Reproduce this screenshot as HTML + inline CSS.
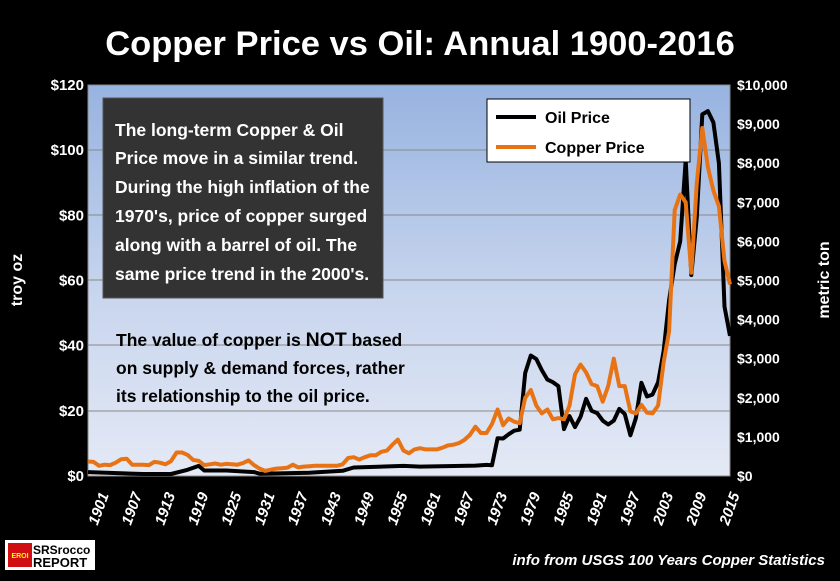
<!DOCTYPE html>
<html><head><meta charset="utf-8"><style>
body{margin:0;background:#000;width:840px;height:576px;overflow:hidden;font-family:"Liberation Sans",sans-serif}
</style></head><body>
<svg width="840" height="576" xmlns="http://www.w3.org/2000/svg" font-family="Liberation Sans, sans-serif">
<defs><linearGradient id="bg" x1="0" y1="0" x2="0" y2="1">
<stop offset="0" stop-color="#97b3e0"/><stop offset="0.55" stop-color="#c9d6ee"/><stop offset="1" stop-color="#e4e9f5"/></linearGradient></defs>
<rect width="840" height="576" fill="#000"/>
<text x="420" y="55" fill="#fff" font-size="34.5" font-weight="bold" text-anchor="middle">Copper Price vs Oil: Annual 1900-2016</text>
<rect x="88" y="85" width="642" height="391" fill="url(#bg)" stroke="#888"/>
<g stroke="#888" stroke-width="1">
<line x1="88" y1="150" x2="730" y2="150"/><line x1="88" y1="215" x2="730" y2="215"/>
<line x1="88" y1="280" x2="730" y2="280"/><line x1="88" y1="345" x2="730" y2="345"/>
<line x1="88" y1="411" x2="730" y2="411"/>
</g>
<g fill="#fff" font-size="15" font-weight="bold" text-anchor="end" id="la"></g>
<g fill="#fff" font-size="14" font-weight="bold" id="ra"></g>
<g fill="#fff" font-size="15" font-weight="bold" font-style="italic" id="xa"></g>
<text transform="translate(22,280) rotate(-90)" fill="#fff" font-size="16" font-weight="bold" text-anchor="middle">troy  oz</text>
<text transform="translate(829,280) rotate(-90)" fill="#fff" font-size="16" font-weight="bold" text-anchor="middle">metric  ton</text>
<polyline id="oil" fill="none" stroke="#000" stroke-width="4" stroke-linejoin="round"/>
<polyline id="cu" fill="none" stroke="#e87315" stroke-width="4" stroke-linejoin="round"/>
<rect x="103" y="98" width="280" height="200" fill="#333" stroke="#555"/>
<g fill="#fff" font-size="17.5" font-weight="bold">
<text x="115" y="136">The long-term Copper &amp; Oil</text>
<text x="115" y="164">Price move  in a similar trend.</text>
<text x="115" y="193">During the high inflation of the</text>
<text x="115" y="222">1970's, price of copper surged</text>
<text x="115" y="251">along with a barrel of oil.  The</text>
<text x="115" y="280">same price trend in the 2000's.</text>
</g>
<g fill="#000" font-size="17.5" font-weight="bold">
<text x="116" y="346">The value of copper is <tspan font-size="19.5">NOT</tspan> based</text>
<text x="116" y="374">on supply &amp; demand forces, rather</text>
<text x="116" y="402">its relationship to the oil price.</text>
</g>
<rect x="487" y="99" width="203" height="63" fill="#fff" stroke="#000"/>
<line x1="496" y1="117" x2="536" y2="117" stroke="#000" stroke-width="4"/>
<line x1="496" y1="147" x2="536" y2="147" stroke="#e87315" stroke-width="4"/>
<g fill="#000" font-size="16" font-weight="bold"><text x="545" y="123">Oil Price</text><text x="545" y="153">Copper Price</text></g>
<rect x="5" y="540" width="90" height="30" fill="#fff"/>
<rect x="8" y="543" width="24" height="24" fill="#d01010"/>
<text x="20" y="558" fill="#ff0" font-size="7" font-weight="bold" text-anchor="middle">EROI</text>
<text x="33" y="554" fill="#000" font-size="12" font-weight="bold">SRSrocco</text>
<text x="33" y="567" fill="#000" font-size="13" font-weight="bold">REPORT</text>
<text x="825" y="565" fill="#fff" font-size="15" font-weight="bold" font-style="italic" text-anchor="end">info from USGS 100 Years Copper Statistics</text>
</svg>
<script>
var X=function(y){return 88+(y-1900)*642/116};
var la=document.getElementById('la'),ra=document.getElementById('ra'),xa=document.getElementById('xa');
var s='';for(var i=0;i<=6;i++){s+='<text x="84" y="'+(481-i*65.17)+'">$'+(i*20)+'</text>';}la.innerHTML=s;
s='';for(var i=0;i<=10;i++){s+='<text x="737" y="'+(481-i*39.1)+'">$'+(i?i+',000':'0')+'</text>';}ra.innerHTML=s;
s='';for(var y=1901;y<=2015;y+=6){var x=X(y)+4;s+='<text transform="translate('+x+',526) rotate(-70)">'+y+'</text>';}xa.innerHTML=s;
var oil={1900:1.2,1910:0.6,1915:0.6,1918:1.9,1920:3.1,1921:1.7,1925:1.7,1930:1.2,1931:0.7,1940:1.0,1946:1.6,1948:2.6,1957:3.1,1960:2.9,1970:3.2,1972:3.4,1973:3.3,1974:11.6,1975:11.5,1976:12.8,1977:13.9,1978:14.2,1979:31.6,1980:37,1981:35.9,1982:32.5,1983:29.6,1984:28.8,1985:27.6,1986:14.4,1987:18.4,1988:15,1989:18.2,1990:23.7,1991:20,1992:19.3,1993:17,1994:15.8,1995:17,1996:20.6,1997:19,1998:12.5,1999:17.8,2000:28.6,2001:24.4,2002:25,2003:28.8,2004:38.3,2005:54,2006:65,2007:72,2008:97,2009:61.7,2010:79.5,2011:111,2012:112,2013:108.5,2014:96,2015:52,2016:43};
var cu={1900:370,1901:360,1902:260,1903:290,1904:280,1905:340,1906:430,1907:440,1908:290,1909:290,1910:290,1911:280,1912:360,1913:340,1914:300,1915:380,1916:600,1917:600,1918:540,1919:410,1920:390,1921:280,1922:300,1923:320,1924:290,1925:310,1926:300,1927:290,1928:330,1929:400,1930:280,1931:190,1932:130,1933:160,1934:190,1935:200,1936:210,1937:290,1938:220,1939:240,1940:250,1941:260,1942:260,1943:260,1944:260,1945:260,1946:300,1947:460,1948:480,1949:420,1950:480,1951:530,1952:530,1953:620,1954:650,1955:800,1956:930,1957:650,1958:580,1959:680,1960:710,1961:680,1962:680,1963:680,1964:720,1965:780,1966:800,1967:840,1968:920,1969:1050,1970:1260,1971:1100,1972:1100,1973:1330,1974:1700,1975:1300,1976:1470,1977:1390,1978:1350,1979:2000,1980:2200,1981:1800,1982:1600,1983:1700,1984:1450,1985:1480,1986:1450,1987:1800,1988:2600,1989:2850,1990:2650,1991:2350,1992:2300,1993:1900,1994:2300,1995:3000,1996:2300,1997:2300,1998:1650,1999:1600,2000:1820,2001:1620,2002:1600,2003:1800,2004:2900,2005:3700,2006:6800,2007:7200,2008:7000,2009:5200,2010:7500,2011:8900,2012:7900,2013:7300,2014:6900,2015:5500,2016:4900};
function pts(d,f){var k=Object.keys(d).map(Number).sort(function(a,b){return a-b});return k.map(function(y){return X(y).toFixed(1)+','+f(d[y]).toFixed(1)}).join(' ');}
document.getElementById('oil').setAttribute('points',pts(oil,function(v){return 476-v*3.258}));
document.getElementById('cu').setAttribute('points',pts(cu,function(v){return 476-v*0.0391}));
</script>
</body></html>
